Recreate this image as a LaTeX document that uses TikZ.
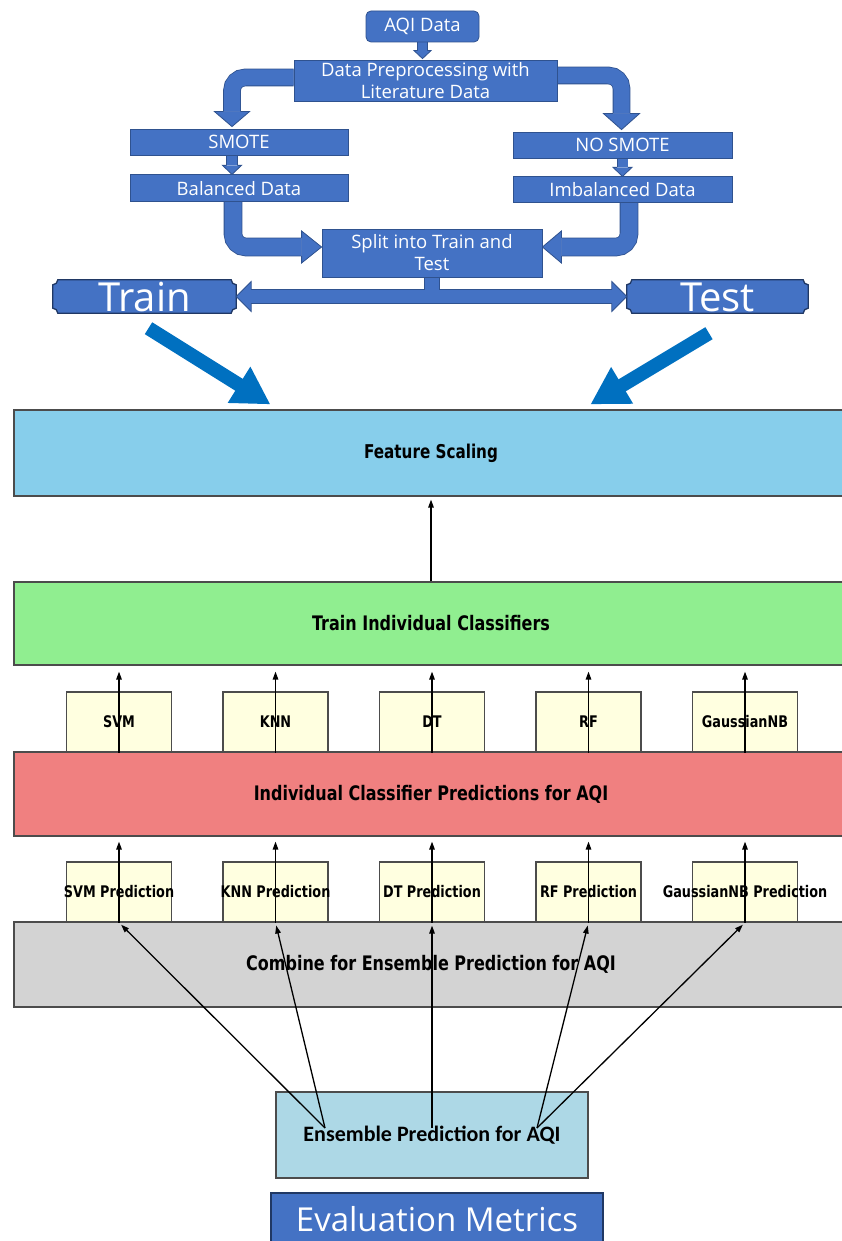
\documentclass[tikz,border=0pt]{standalone}
\usepackage{fontspec}
\setmainfont{Open Sans}
\newfontfamily\plotfont[FakeStretch=0.8]{DejaVu Sans}
\newfontfamily\ensfont{Carlito}
\usepackage{tikz}
\usetikzlibrary{arrows.meta,positioning,calc,backgrounds}
\definecolor{blkfill}{HTML}{4472C4}
\definecolor{blkline}{HTML}{2F528F}
\definecolor{navy}{HTML}{203864}
\definecolor{arrblue}{HTML}{0070C0}
\definecolor{fsblue}{HTML}{87CEEB}
\definecolor{tcgreen}{HTML}{90EE90}
\definecolor{iccoral}{HTML}{F08080}
\definecolor{cbgray}{HTML}{D3D3D3}
\definecolor{enblue}{HTML}{ADD8E6}
\definecolor{clyellow}{HTML}{FFFFE0}
\newcommand{\ovl}[1]{\makebox[0pt]{#1}}
% head of a block arrow: base, tip, half shaft, half head
\newcommand{\blkhead}[4]{%
  \fill[blkfill] ($(#1)!#3!90:(#2)$) -- ($(#1)!#4!90:(#2)$) -- (#2)
    -- ($(#1)!#4!-90:(#2)$) -- ($(#1)!#3!-90:(#2)$) -- cycle;
  \draw[blkline, line width=0.8pt] ($(#1)!#3!90:(#2)$) -- ($(#1)!#4!90:(#2)$) -- (#2)
    -- ($(#1)!#4!-90:(#2)$) -- ($(#1)!#3!-90:(#2)$);}
% plaque outline (notched corners) behind a node
\newcommand{\plaque}[1]{%
  \filldraw[draw=navy, fill=blkfill, line width=1.3pt]
    ($(#1.north west)+(5,0)$) -- ($(#1.north east)+(-5,0)$) arc[start angle=180, end angle=90, radius=5]
    -- ($(#1.south east)+(0,-5)$) arc[start angle=270, end angle=180, radius=5]
    -- ($(#1.south west)+(5,0)$) arc[start angle=0, end angle=-90, radius=5]
    -- ($(#1.north west)+(0,5)$) arc[start angle=90, end angle=0, radius=5] -- cycle;}

\begin{document}
\begin{tikzpicture}[x=1pt, y=-1pt,
  blkbox/.style={draw=blkline, fill=blkfill, line width=0.8pt, text=white, align=center,
                 inner sep=0pt, font=\fontsize{18.5}{22}\selectfont},
  tagbox/.style={text=white, inner sep=0pt, minimum height=33pt,
                 text height=31pt, text depth=2pt, font=\fontsize{40}{44}\selectfont},
  band/.style={draw=black!70, line width=1.2pt, minimum width=834pt, inner sep=0pt,
               font=\plotfont\bfseries\fontsize{20}{24}\selectfont},
  clbox/.style={draw=black!70, line width=1.2pt, fill=clyellow, minimum width=105pt,
                minimum height=60pt, inner sep=0pt, font=\plotfont\bfseries\fontsize{16}{19}\selectfont},
  blkshaft/.style={draw=blkline, line width=0.8pt, double=blkfill, double distance=#1},
  bigarr/.style={draw=arrblue, line width=14pt, -{Triangle[length=37pt,width=40pt]}},
  a/.style={-{Triangle[length=8pt,width=5.5pt]}, line width=1.3pt}]
\useasboundingbox (0,0) rectangle (842,1241);

% data preparation
\node[blkbox, rounded corners=5pt, minimum width=113pt, minimum height=31pt] (aqi) at (422.5,26.5) {AQI Data};
\node[blkbox, minimum width=263pt, minimum height=41pt] (pre) at (425.5,80.5) {Data Preprocessing with\\Literature Data};
\node[blkbox, minimum width=218pt, minimum height=26pt] (smote) at (239,142) {SMOTE};
\node[blkbox, minimum width=218pt, minimum height=27pt, below=19pt of smote] (bal) {Balanced Data};
\node[blkbox, minimum width=219pt, minimum height=26pt] (nosm) at (622.5,145) {NO SMOTE};
\node[blkbox, minimum width=219pt, minimum height=26pt, below=18pt of nosm] (imb) {Imbalanced Data};
\node[blkbox, minimum width=220pt, minimum height=48pt] (split) at (432,253) {Split into Train and\\Test};
\node[tagbox, minimum width=183pt] (train) at (144.5,296.5) {Train};
\node[tagbox, minimum width=181pt] (test) at (717.5,296.5) {Test};

% model pipeline
\node[band, fill=fsblue, minimum height=86pt, font=\plotfont\bfseries\fontsize{19}{23}\selectfont] (fs) at (431,453) {Feature Scaling};
\node[band, fill=tcgreen, minimum height=83pt] (tic) at (431,623.5) {Train Individual Classifiers};
\node[band, fill=iccoral, minimum height=84pt] (icp) at (431,794) {Individual Classifier Predictions for AQI};
\node[clbox] (svm) at (119,722) {SVM};
\node[clbox] (knn) at (275.5,722) {KNN};
\node[clbox] (dt) at (432,722) {DT};
\node[clbox] (rf) at (588.5,722) {RF};
\node[clbox] (gnb) at (745,722) {GaussianNB};
\node[band, fill=cbgray, minimum height=85pt] (cmb) at (431,964.5) {Combine for Ensemble Prediction for AQI};
\node[clbox] (svmp) at (119,892) {\ovl{SVM Prediction}};
\node[clbox] (knnp) at (275.5,892) {\ovl{KNN Prediction}};
\node[clbox] (dtp) at (432,892) {\ovl{DT Prediction}};
\node[clbox] (rfp) at (588.5,892) {\ovl{RF Prediction}};
\node[clbox] (gnbp) at (745,892) {\ovl{GaussianNB Prediction}};
\node[draw=black!70, line width=1.2pt, fill=enblue, minimum width=312pt, minimum height=86pt,
      font=\ensfont\bfseries\fontsize{22}{26}\selectfont] (ens) at (432,1135) {Ensemble Prediction for AQI};
\node[blkbox, draw=navy, line width=1.5pt, minimum width=332pt, minimum height=52pt,
      font=\fontsize{33}{38}\selectfont] (eval) at (437,1219) {Evaluation Metrics};

% block arrows
\begin{scope}[on background layer]
\fill[white] (0,0) rectangle (842,1241);
\plaque{train}
\plaque{test}
\coordinate (s1t) at ($(aqi.south |- pre.north)+(0,-1)$);
\coordinate (s1b) at ($(s1t)+(0,-8)$);
\draw[blkshaft=9pt] (aqi.south) -- (s1b);
\blkhead{s1b}{s1t}{4.9pt}{8.5pt}
\coordinate (l1t) at ($(smote.north)+(-7,-2)$);
\coordinate (l1b) at ($(l1t)+(0,-15)$);
\draw[blkshaft=16pt, rounded corners=13pt] ($(pre.west)+(0,-3)$) -| (l1b);
\blkhead{l1b}{l1t}{8.4pt}{17.5pt}
\coordinate (r1t) at ($(nosm.north)+(-1,-2)$);
\coordinate (r1b) at ($(r1t)+(0,-16)$);
\draw[blkshaft=16pt, rounded corners=13pt] ($(pre.east)+(0,-5)$) -| (r1b);
\blkhead{r1b}{r1t}{8.4pt}{18pt}
\coordinate (s2t) at ($(bal.north)+(-7,0)$);
\coordinate (s2b) at ($(s2t)+(0,-9)$);
\draw[blkshaft=10pt] ($(smote.south)+(-7,0)$) -- (s2b);
\blkhead{s2b}{s2t}{5.4pt}{9.5pt}
\coordinate (s3t) at (imb.north);
\coordinate (s3b) at ($(s3t)+(0,-9)$);
\draw[blkshaft=10pt] (nosm.south) -- (s3b);
\blkhead{s3b}{s3t}{5.4pt}{9.5pt}
\coordinate (l2t) at ($(split.west)+(0,-6)$);
\coordinate (l2b) at ($(l2t)+(-20,0)$);
\draw[blkshaft=17pt, rounded corners=13pt] ($(bal.south)+(-6,0)$) |- (l2b);
\blkhead{l2b}{l2t}{8.9pt}{16pt}
\coordinate (r2t) at ($(split.east)+(0,-6)$);
\coordinate (r2b) at ($(r2t)+(19,0)$);
\draw[blkshaft=17pt, rounded corners=13pt] ($(imb.south)+(6.5,0)$) |- (r2b);
\blkhead{r2b}{r2t}{8.9pt}{16pt}
% split into train and test
\coordinate (tj) at (split.south |- train.east);
\coordinate (tbl) at ($(train.east)+(15,0)$);
\coordinate (tbr) at ($(test.west)+(-15,0)$);
\draw[blkline, line width=14.6pt] (tbl) -- (tbr);
\draw[blkline, line width=15.6pt] (split.south) -- (tj);
\draw[blkfill, line width=13pt] (tbl) -- (tbr);
\draw[blkfill, line width=14pt] (split.south) -- (tj);
\blkhead{tbl}{train.east}{6.9pt}{15pt}
\blkhead{tbr}{test.west}{6.9pt}{15pt}
\end{scope}

\draw[bigarr] ($(train.south)+(4,15)$) -- ($(fs.north west)+(257,-5)$);
\draw[bigarr] ($(test.south)+(-8.5,20)$) -- ($(fs.north west)+(577,-5)$);

\draw[a] (tic.north) -- ($(fs.south)+(0,3)$);
\draw[a] (svm.south) -- ($(svm.south |- tic.south)+(0,6)$); \draw[a] (knn.south) -- ($(knn.south |- tic.south)+(0,6)$);
\draw[a] (dt.south) -- ($(dt.south |- tic.south)+(0,6)$); \draw[a] (rf.south) -- ($(rf.south |- tic.south)+(0,6)$);
\draw[a] (gnb.south) -- ($(gnb.south |- tic.south)+(0,6)$);
\draw[a] (svmp.south) -- ($(svmp.south |- icp.south)+(0,5)$); \draw[a] (knnp.south) -- ($(knnp.south |- icp.south)+(0,5)$);
\draw[a] (dtp.south) -- ($(dtp.south |- icp.south)+(0,5)$); \draw[a] (rfp.south) -- ($(rfp.south |- icp.south)+(0,5)$);
\draw[a] (gnbp.south) -- ($(gnbp.south |- icp.south)+(0,5)$);
\coordinate (eL) at ($(ens.center)+(-107,-7)$);
\coordinate (eC) at ($(ens.center)+(0,-7)$);
\coordinate (eR) at ($(ens.center)+(105,-7)$);
\draw[a, shorten >=3pt] (eL) -- (svmp.south); \draw[a, shorten >=3pt] (eL) -- (knnp.south);
\draw[a, shorten >=3pt] (eC) -- (dtp.south);
\draw[a, shorten >=3pt] (eR) -- (rfp.south); \draw[a, shorten >=3pt] (eR) -- (gnbp.south);
\end{tikzpicture}
\end{document}
